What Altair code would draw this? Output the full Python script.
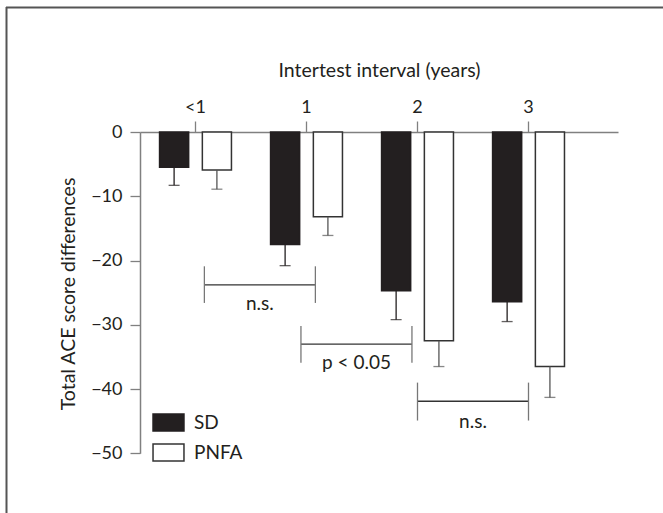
import altair as alt
import pandas as pd

# ---- data ----
groups = ["<1", "1", "2", "3"]
series = ["SD", "PNFA"]
sd_mean = [-5.5, -17.5, -24.7, -26.4]
sd_err = [2.8, 3.3, 4.5, 3.1]
pnfa_mean = [-5.9, -13.2, -32.5, -36.5]
pnfa_err = [3.0, 2.9, 4.0, 4.8]

# significance brackets (x in interval-index units, y in score units)
br_x1 = [0.08, 0.95, 2.0]
br_x2 = [1.08, 1.95, 3.0]
br_y = [-23.8, -33.0, -41.9]
br_top = [-20.9, -30.2, -39.0]
br_bot = [-26.6, -35.9, -44.9]
br_label = ["n.s.", "p < 0.05", "n.s."]
br_label_y = [-27.7, -36.9, -46.1]

y_ticks = [0, -10, -20, -30, -40, -50]

# ---- tables ----
rows = []
for i, g in enumerate(groups):
    rows.append({"group": g, "series": "SD", "mean": sd_mean[i], "lo": sd_mean[i] - sd_err[i]})
    rows.append({"group": g, "series": "PNFA", "mean": pnfa_mean[i], "lo": pnfa_mean[i] - pnfa_err[i]})
df = pd.DataFrame(rows)

br = pd.DataFrame({"x1": br_x1, "x2": br_x2, "y": br_y, "top": br_top, "bot": br_bot,
                   "label": br_label, "ly": br_label_y})

FONT = "Lato"
INK = "#231f20"
GRAY = "#808080"
W, H = 478, 321.3
STEP = 111.0

xscale = alt.Scale(domain=groups, paddingInner=0, paddingOuter=0.153, align=0)
offscale = alt.Scale(domain=series, paddingInner=0.32, paddingOuter=0.457)
yscale = alt.Scale(domain=[-50, 0], nice=False, zero=False)

x_axis = alt.Axis(orient="top", title="Intertest interval (years)", labelAngle=0,
                  domainColor=GRAY, domainWidth=1.5, tickColor=GRAY, tickWidth=1.3, tickSize=11,
                  labelFontSize=18, labelColor=INK, labelPadding=5, labelFont=FONT,
                  titleFont=FONT, titleFontSize=19.5, titleFontWeight="normal", titleColor=INK,
                  titleY=-56, titleBaseline="alphabetic", titleAlign="center")
y_axis = alt.Axis(values=y_ticks, title="Total ACE score differences", grid=False,
                  domainColor=GRAY, domainWidth=1.5, tickColor=GRAY, tickWidth=1.3, tickSize=10,
                  labelFontSize=18, labelColor=INK, labelPadding=8, labelFont=FONT,
                  titleFont=FONT, titleFontSize=19.5, titleFontWeight="normal", titleColor=INK,
                  titleAngle=270, titleX=-72, titleY=161.5, titleAlign="center", titleBaseline="middle")

legend = alt.Legend(title=None, orient="none", legendX=19, legendY=281, padding=0,
                    symbolType="M-1.82,-1H1.82V1H-1.82Z", symbolSize=289, symbolStrokeWidth=1.5,
                    labelFont=FONT, labelFontSize=19, labelColor=INK, labelOffset=16, rowPadding=7)

base = alt.Chart(df)
X = alt.X("group:N", scale=xscale, sort=groups, axis=x_axis)
XO = alt.XOffset("series:N", scale=offscale, sort=series)

bars = base.mark_bar(strokeWidth=1.5).encode(
    x=X, xOffset=XO,
    y=alt.Y("mean:Q", scale=yscale, axis=y_axis),
    fill=alt.Fill("series:N", scale=alt.Scale(domain=series, range=[INK, "#ffffff"]), legend=legend),
    stroke=alt.Stroke("series:N", scale=alt.Scale(domain=series, range=[INK, "#333333"]), legend=legend),
)
err_color = alt.condition(alt.datum.series == "SD", alt.value(INK), alt.value("#555555"))
errs = base.mark_rule(strokeWidth=1.3).encode(
    x=X, xOffset=XO, y=alt.Y("lo:Q"), y2="mean:Q", color=err_color)
caps = base.mark_tick(size=11, thickness=1.3, orient="horizontal").encode(
    x=X, xOffset=XO, y=alt.Y("lo:Q"), color=err_color)

bx = alt.Scale(domain=[-0.5, W / STEP - 0.5], nice=False, zero=False)
bb = alt.Chart(br)
hline = bb.mark_rule(strokeWidth=1.3, color="#333333").encode(
    x=alt.X("x1:Q", scale=bx, axis=None), x2="x2:Q", y=alt.Y("y:Q"))
lend = bb.mark_rule(strokeWidth=1.3, color="#777777").encode(
    x=alt.X("x1:Q", scale=bx, axis=None), y=alt.Y("top:Q"), y2="bot:Q")
rend = bb.mark_rule(strokeWidth=1.3, color="#777777").encode(
    x=alt.X("x2:Q", scale=bx, axis=None), y=alt.Y("top:Q"), y2="bot:Q")
txt = bb.transform_calculate(xm="(datum.x1 + datum.x2) / 2").mark_text(
    font=FONT, fontSize=19, color=INK, baseline="alphabetic", align="center").encode(
    x=alt.X("xm:Q", scale=bx, axis=None), y=alt.Y("ly:Q"), text="label:N")

dummy = alt.Chart(pd.DataFrame({"a": [0]}))
frame_top = dummy.mark_rule(color="#555555", strokeWidth=2).encode(
    x=alt.value(-134), x2=alt.value(540), y=alt.value(-124.5))
frame_left = dummy.mark_rule(color="#555555", strokeWidth=2).encode(
    x=alt.value(-133.5), y=alt.value(-125), y2=alt.value(400))

main = alt.layer(bars, errs, caps)
annot = alt.layer(hline, lend, rend, txt)

chart = alt.layer(main, annot, frame_top, frame_left).resolve_scale(x="independent").properties(
    width=W, height=H, autosize="none",
    padding={"left": 140, "top": 132, "right": 45, "bottom": 59.7},
    background="white",
).configure_view(stroke=None)

chart.save("out.html", embed_options={"renderer": "svg", "actions": False})
